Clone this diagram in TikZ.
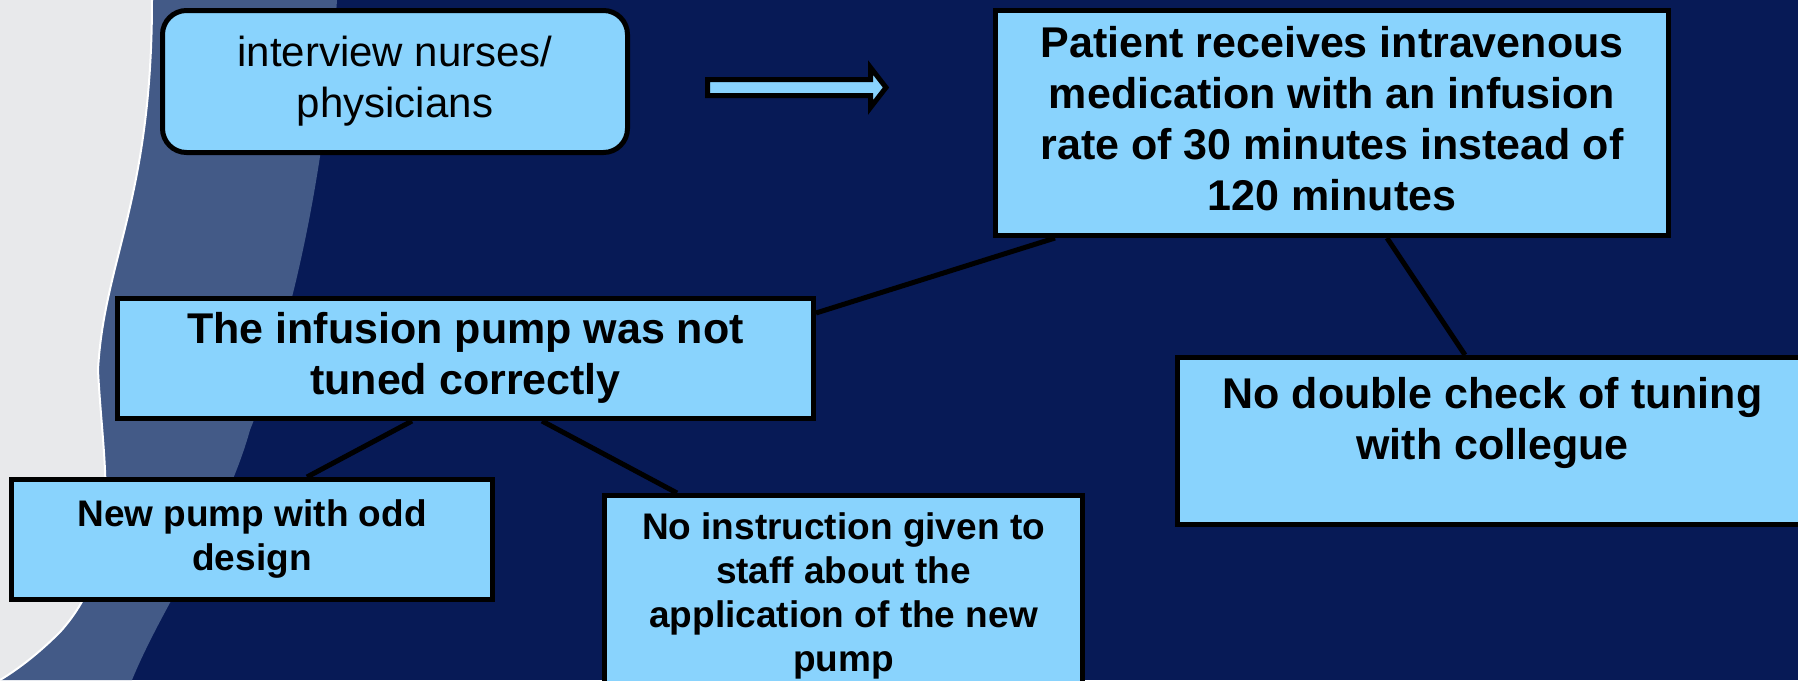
\documentclass[tikz,border=0pt]{standalone}
\usepackage{fontspec}
\setmainfont{Liberation Sans}
\definecolor{navy}{RGB}{7,26,86}
\definecolor{bandblue}{RGB}{67,90,135}
\definecolor{sidegray}{RGB}{232,233,235}
\definecolor{boxblue}{RGB}{137,211,253}
\tikzset{
  boxbase/.style={draw=black, line width=5pt, fill=boxblue, align=center, inner sep=0pt,
    anchor=north west},
  cause/.style={boxbase, font=\bfseries\fontsize{43}{51}\selectfont,
    execute at begin node={\rule{0pt}{42pt}}, execute at end node={\rule[-10pt]{0pt}{10pt}}},
  smallcause/.style={boxbase, font=\bfseries\fontsize{37}{44}\selectfont,
    execute at begin node={\rule{0pt}{26pt}}, execute at end node={\rule[-9pt]{0pt}{9pt}}},
  task/.style={boxbase, rounded corners=24pt, font=\fontsize{42}{51}\selectfont,
    execute at begin node={\rule{0pt}{33pt}}, execute at end node={\rule[-9pt]{0pt}{9pt}}},
  link/.style={line width=5pt}
}

\begin{document}
\begin{tikzpicture}[x=1pt,y=-1pt]
\useasboundingbox (0,0) rectangle (1798,680);
\clip (0,0) rectangle (1798,680);

% background
\fill[navy] (0,0) rectangle (1798,680);
\fill[bandblue] (0,0) -- (337,0) .. controls (325,180) and (290,330) .. (250,430)
   .. controls (225,520) and (165,600) .. (132,680) -- (0,680) -- cycle;
\fill[sidegray] (0,0) -- (152,0) .. controls (152,200) and (104,260) .. (98,370)
   .. controls (103,470) and (125,560) .. (60,632)
   .. controls (40,652) and (20,668) .. (0,680) -- cycle;
\draw[white, line width=2pt] (152,0) .. controls (152,200) and (104,260) .. (98,370)
   .. controls (103,470) and (125,560) .. (60,632)
   .. controls (40,652) and (20,668) .. (0,680);

\node[task, minimum width=465pt, minimum height=142pt] (interview) at (160,8)
   {interview nurses/\\physicians};
\node[cause, minimum width=673pt, minimum height=225pt] (patient) at (993,8)
   {Patient receives intravenous\\medication with an infusion\\rate of 30 minutes instead of\\120 minutes};
\node[cause, minimum width=696pt, minimum height=120pt] (pump) at (115,296)
   {The infusion pump was not\\tuned correctly};
\node[smallcause, minimum width=481pt, minimum height=120pt] (design) at (9,477)
   {New pump with odd\\design};
\node[smallcause, minimum width=478pt, minimum height=202pt] (training) at (602,493)
   {No instruction given to\\staff about the\\application of the new\\pump};
\node[cause, minimum width=630pt, minimum height=167pt] (check) at (1175,355)
   {\parbox[c][127pt][t]{600pt}{\centering No double check of tuning\\with collegue}};

% block arrow
\draw[line width=5pt, fill=boxblue, line join=miter] (707.5,79.5) -- (870.5,79.5) -- (870.5,67.5)
   -- (886,87.5) -- (870.5,107.5) -- (870.5,95.5) -- (707.5,95.5) -- cycle;

\draw[link] ([xshift=62pt]patient.south west) -- ([yshift=-17pt]pump.north east);
\draw[link] ([xshift=394pt]patient.south west) -- ([xshift=290pt]check.north west);
\draw[link] ([xshift=297pt]pump.south west) -- ([xshift=298pt]design.north west);
\draw[link] ([xshift=427pt]pump.south west) -- ([xshift=75pt]training.north west);
\end{tikzpicture}
\end{document}
